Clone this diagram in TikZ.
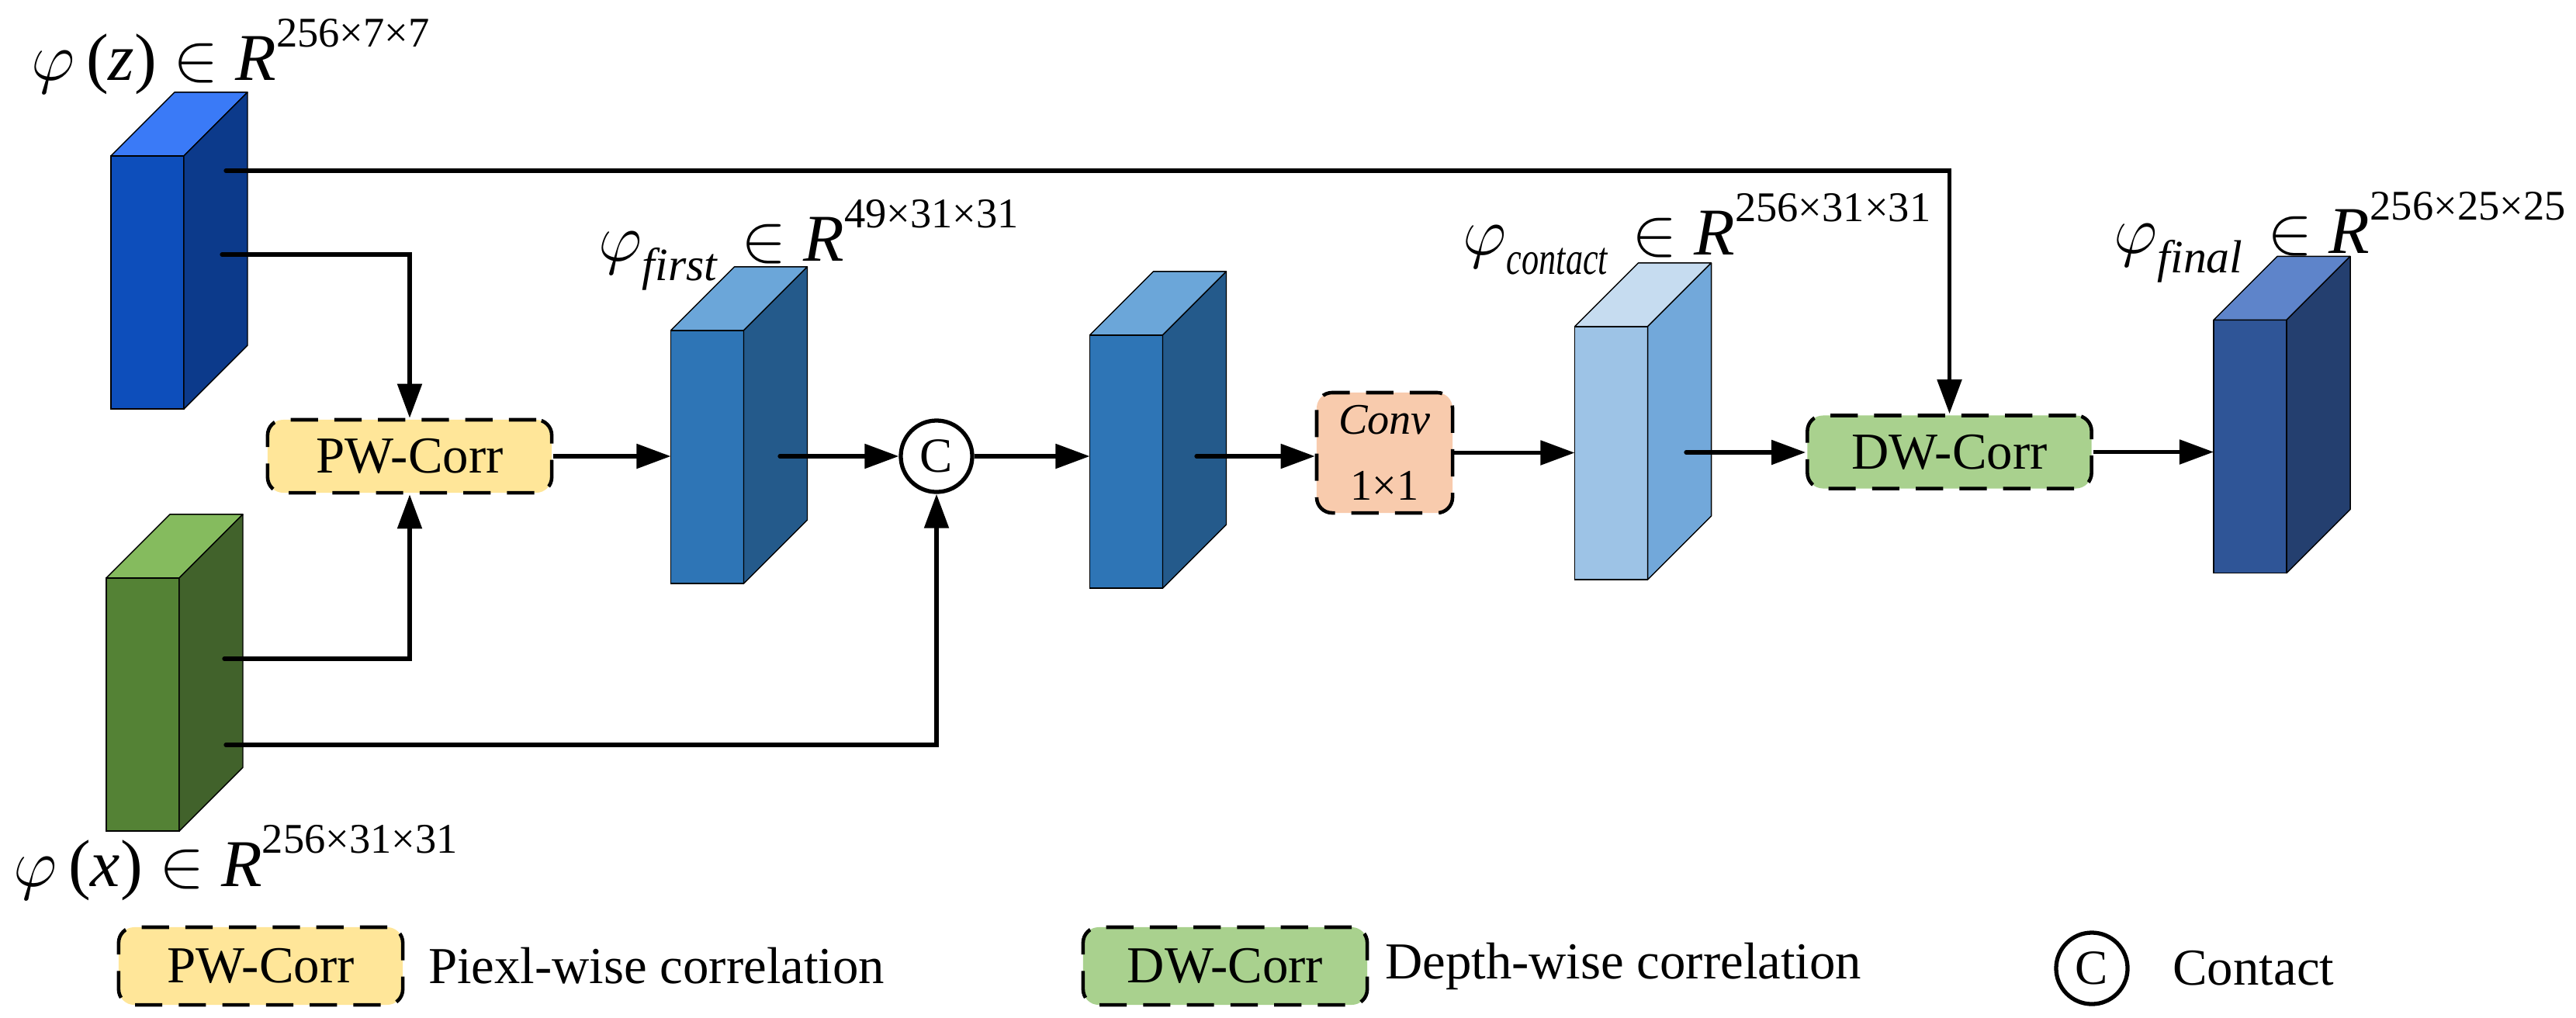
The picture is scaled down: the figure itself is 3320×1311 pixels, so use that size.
\documentclass[tikz,border=0pt]{standalone}
\usepackage{fontspec}
\setmainfont{Liberation Serif}
\usepackage{graphicx}
\usetikzlibrary{positioning,arrows.meta}
\definecolor{ZFront}{HTML}{0D4EBB}
\definecolor{ZTop}{HTML}{3A7AF7}
\definecolor{ZSide}{HTML}{0C3A8B}
\definecolor{XFront}{HTML}{548235}
\definecolor{XTop}{HTML}{85BB5E}
\definecolor{XSide}{HTML}{41622B}
\definecolor{MidFront}{HTML}{2E75B6}
\definecolor{MidTop}{HTML}{6BA6D9}
\definecolor{MidSide}{HTML}{245A8B}
\definecolor{PaleFront}{HTML}{9DC3E6}
\definecolor{PaleTop}{HTML}{C6DCF0}
\definecolor{PaleSide}{HTML}{72A8DA}
\definecolor{FinalFront}{HTML}{2F5597}
\definecolor{FinalTop}{HTML}{5E84CA}
\definecolor{FinalSide}{HTML}{243F6F}
\definecolor{PWYellow}{HTML}{FFE699}
\definecolor{DWGreen}{HTML}{A9D18E}
\definecolor{ConvPeach}{HTML}{F8CBAD}
\newcommand{\dimsup}[1]{\raisebox{0.42cm}{\fontsize{15.5}{15.5}\selectfont #1}}
\newcommand{\mapsub}[1]{\raisebox{-0.25cm}{\fontsize{17}{17}\selectfont\itshape #1}\hspace{0.1cm}}
% feature map block: name, front-face centre, front, top and side colours
\newcommand{\featmap}[5]{%
  \node[fmap,fill=#3] (#1) at (#2) {};
  \filldraw[facet,fill=#4] (#1.north west) -- ([shift={(82,-82)}]#1.north west)
    -- ([shift={(82,-82)}]#1.north east) -- (#1.north east) -- cycle;
  \filldraw[facet,fill=#5] (#1.north east) -- ([shift={(82,-82)}]#1.north east)
    -- ([shift={(82,-82)}]#1.south east) -- (#1.south east) -- cycle;
}

\begin{document}
\begin{tikzpicture}[
  x=0.01cm,y=-0.01cm,
  fmap/.style={draw=black,line width=0.4pt,minimum width=0.94cm,minimum height=3.26cm,
               inner sep=0pt,outer sep=0pt},
  facet/.style={draw=black,line width=0.4pt,line join=round},
  corr/.style={draw=black,line width=1.3pt,dash pattern=on 10pt off 6pt,rounded corners=2mm,
               minimum width=3.66cm,minimum height=0.94cm,inner sep=0pt,
               font=\fontsize{19}{19}\selectfont},
  conv/.style={corr,minimum width=1.75cm,minimum height=1.55cm,align=center,
               font=\fontsize{16}{24}\selectfont},
  concat/.style={circle,draw=black,line width=1.5pt,minimum size=0.92cm,inner sep=0pt,
                 font=\fontsize{18}{18}\selectfont},
  maplabel/.style={anchor=base west,inner sep=0pt,font=\fontsize{24.5}{24.5}\selectfont},
  legtext/.style={inner sep=0pt,font=\fontsize{19}{19}\selectfont},
  flow/.style={-{Triangle[length=4.4mm,width=3.1mm]},line width=1.5pt},
  tap/.style={flow,line cap=round}
]
\useasboundingbox (0,0) rectangle (3320,1311);

% input feature maps
\featmap{zmap}{190,364}{ZFront}{ZTop}{ZSide}
\featmap{xmap}{184,908}{XFront}{XTop}{XSide}
\node[maplabel] (zlab) at (40,103) {$\varphi$\,(\textit{z}) $\in$ \textit{R}\dimsup{256×7×7}};
\node[maplabel] (xlab) at (17,1142) {$\varphi$\,(\textit{x}) $\in$ \textit{R}\dimsup{256×31×31}};

% main row
\node[corr,fill=PWYellow] (pw) at (528,588) {PW-Corr};
\featmap{first}{911.5,589}{MidFront}{MidTop}{MidSide}
\node[maplabel] (firstlab) at (771,336) {$\varphi$\mapsub{first} $\in$ \textit{R}\dimsup{49×31×31}};
\node[concat] (cat) at (1207,588) {C};
\featmap{mid}{1451.5,595}{MidFront}{MidTop}{MidSide}
\node[conv,fill=ConvPeach] (conv) at (1784.5,583.5) {\textit{Conv}\\1×1};
\featmap{contact}{2076.5,584}{PaleFront}{PaleTop}{PaleSide}
\node[maplabel] (contactlab) at (1885,328)
  {$\varphi$\mapsub{\scalebox{0.74}[1]{contact}} $\in$ \textit{R}\dimsup{256×31×31}};
\node[corr,fill=DWGreen] (dw) at (2512.5,582.5) {DW-Corr};
\featmap{final}{2900,575.5}{FinalFront}{FinalTop}{FinalSide}
\node[maplabel] (finallab) at (2724,326) {$\varphi$\mapsub{final} $\in$ \textit{R}\dimsup{256×25×25}};

% taps inside the side faces
\coordinate (ztop) at (291,220);
\coordinate (zlow) at (286,328);
\coordinate (xup) at (289,849);
\coordinate (xlow) at (291,960);
\coordinate (firstout) at (1005,588);
\coordinate (midout) at (1542,588);
\coordinate (contactout) at (2173,583);

\draw[tap] (ztop) -| (dw.north);
\draw[tap] (zlow) -| (pw.north);
\draw[tap] (xup) -| (pw.south);
\draw[tap] (xlow) -| (cat.south);
\draw[flow] (pw.east) -- (first.west |- pw.east);
\draw[tap] (firstout) -- (cat.west);
\draw[flow] (cat.east) -- (mid.west |- cat.east);
\draw[tap] (midout) -- (conv.west |- midout);
\draw[flow] (conv.east) -- (contact.west |- conv.east);
\draw[tap] (contactout) -- (dw.west |- contactout);
\draw[flow] (dw.east) -- (final.west |- dw.east);

% legend
\node[corr,fill=PWYellow,minimum height=1cm] (legpw) at (336,1245) {PW-Corr};
\node[legtext,right=0.3cm of legpw] (legpwtext) {Piexl-wise correlation};
\node[corr,fill=DWGreen,minimum height=1cm] (legdw) at (1579,1245) {DW-Corr};
\node[legtext,right=0.2cm of legdw] (legdwtext) {Depth-wise correlation};
\node[concat] (legcat) at (2696,1248) {C};
\node[legtext,right=0.55cm of legcat] (legcattext) {Contact};
\end{tikzpicture}
\end{document}
